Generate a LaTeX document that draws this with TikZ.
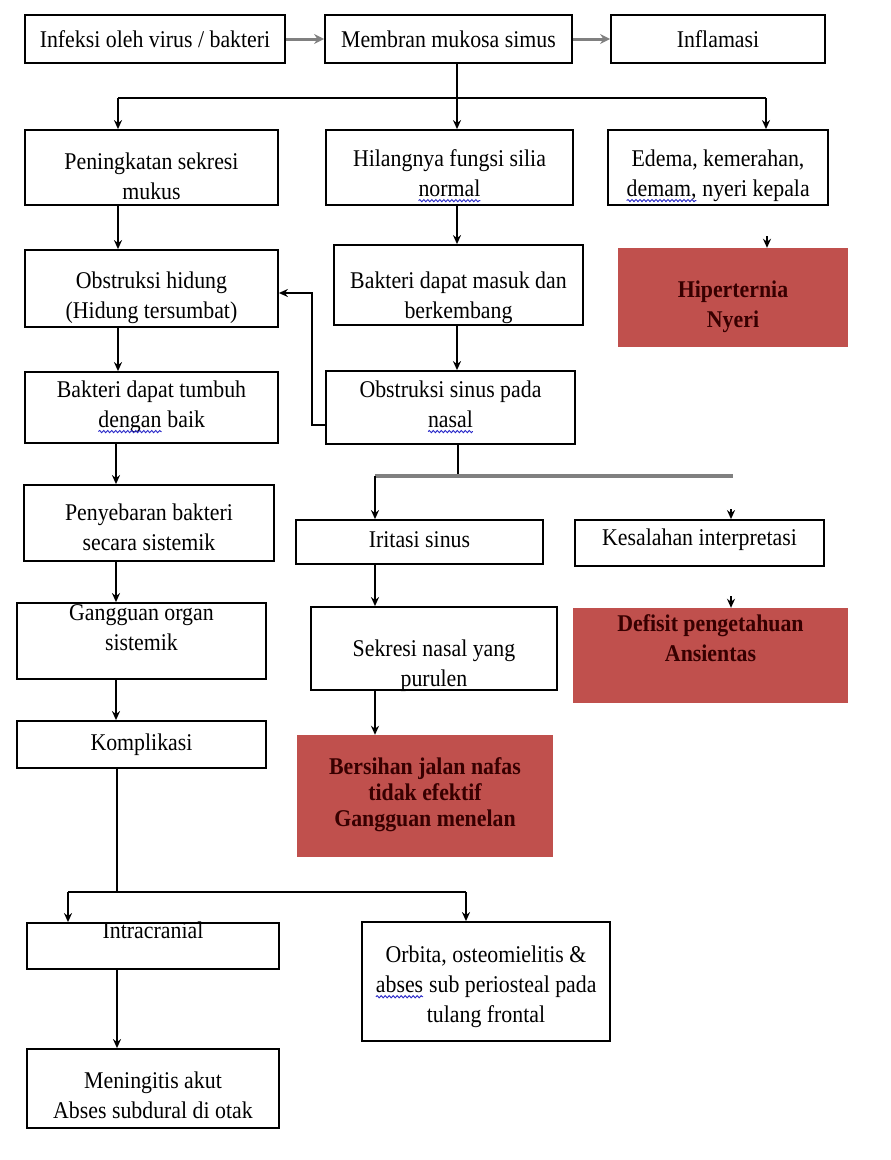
\documentclass[tikz,border=0pt]{standalone}
\usepackage{fontspec}
\setmainfont{Liberation Serif}[FakeStretch=0.91]
\usetikzlibrary{arrows.meta,calc,decorations.pathmorphing}
\definecolor{boxred}{RGB}{192,80,77}
\definecolor{darktxt}{RGB}{55,0,0}
\definecolor{linegray}{RGB}{128,128,128}
\definecolor{squig}{RGB}{40,40,200}
\newcommand\sq[1]{\tikz[baseline=(sqw.base)]{\node[inner sep=0pt,outer sep=0pt] (sqw) {#1};
 \draw[squig,line width=0.9pt,decorate,decoration={snake,segment length=4pt,amplitude=1.1pt}] ([yshift=-4pt]sqw.base west) -- ([yshift=-4pt]sqw.base east);}}
\begin{document}
\begin{tikzpicture}[x=1pt,y=-1pt,
 box/.style={draw=black,line width=1.8pt,fill=white,inner sep=0pt},
 redbox/.style={fill=boxred,draw=none,inner sep=0pt},
 txt/.style={align=center,font=\fontsize{24}{30}\selectfont,inner sep=0pt},
 redtxt/.style={align=center,inner sep=0pt,font=\fontsize{24}{30}\selectfont\bfseries,text=darktxt},
 arr/.style={line width=1.6pt,-{Stealth[length=9pt,width=8pt]}},
 ln/.style={line width=1.6pt},
 garr/.style={line width=3pt,draw=linegray,-{Stealth[length=10pt,width=10pt]}},
 gln/.style={line width=3.5pt,draw=linegray}]
\fill[white] (0,0) rectangle (891,1160);
\useasboundingbox (0,0) rectangle (891,1160);

% Row 1
\node[box,minimum width=260pt,minimum height=48pt] (A) at (155,39) {};
\node[txt] (At) at (155,39) {Infeksi oleh virus / bakteri};
\node[box,minimum width=247pt,minimum height=48pt] (B) at (448.5,39) {};
\node[txt] (Bt) at (448.5,39) {Membran mukosa simus};
\node[box,minimum width=214pt,minimum height=48pt] (C) at (718,39) {};
\node[txt] (Ct) at (718,39) {Inflamasi};

% Row 2
\node[box,minimum width=253pt,minimum height=75pt] (D) at (151.5,167.5) {};
\node[txt] (Dt) at (151.5,176) {Peningkatan sekresi\\mukus};
\node[box,minimum width=247pt,minimum height=75pt] (E) at (449.5,167.5) {};
\node[txt] (Et) at (449.5,176) {Hilangnya fungsi silia\\\sq{normal}};
\node[box,minimum width=220pt,minimum height=75pt] (F) at (718,167.5) {};
\node[txt] (Ft) at (718,176) {Edema, kemerahan,\\\sq{demam,} nyeri kepala};

% Row 3
\node[box,minimum width=253pt,minimum height=77pt] (G) at (151.5,288.5) {};
\node[txt] (Gt) at (151.5,298) {Obstruksi hidung\\(Hidung tersumbat)};
\node[box,minimum width=249pt,minimum height=80pt] (H) at (458.5,285) {};
\node[txt] (Ht) at (458.5,298) {Bakteri dapat masuk dan\\berkembang};
\node[redbox,minimum width=230pt,minimum height=99pt] (R1) at (733,297.5) {};
\node[redtxt] (R1t) at (733,307) {Hiperternia\\Nyeri};

% Row 4
\node[box,minimum width=253pt,minimum height=71pt] (J) at (151.5,407.5) {};
\node[txt] (Jt) at (151.5,407) {Bakteri dapat tumbuh\\\sq{dengan} baik};
\node[box,minimum width=249pt,minimum height=73pt] (I) at (450.5,407.5) {};
\node[txt] (It) at (450.5,407) {Obstruksi sinus pada\\\sq{nasal}};

% Row 5
\node[box,minimum width=250pt,minimum height=76pt] (N) at (149,523) {};
\node[txt] (Nt) at (149,527) {Penyebaran bakteri\\secara sistemik};
\node[box,minimum width=247pt,minimum height=44pt] (K) at (419.5,542) {};
\node[txt] (Kt) at (419.5,540) {Iritasi sinus};
\node[box,minimum width=249pt,minimum height=46pt] (L) at (699.5,543) {};
\node[txt] (Lt) at (699.5,540) {Kesalahan interpretasi};

% Row 6
\node[box,minimum width=249pt,minimum height=76pt] (O) at (141.5,641) {};
\node[txt] (Ot) at (141.5,628) {Gangguan organ\\sistemik};
\node[box,minimum width=246pt,minimum height=83pt] (M) at (434,648.5) {};
\node[txt] (Mt) at (434,666) {Sekresi nasal yang\\purulen};
\node[redbox,minimum width=275pt,minimum height=95pt] (R2) at (710.5,655.5) {};
\node[redtxt] (R2t) at (710.5,638) {Defisit pengetahuan\\Ansientas};

% Row 7
\node[box,minimum width=249pt,minimum height=47pt] (P) at (141.5,744.5) {};
\node[txt] (Pt) at (141.5,745) {Komplikasi};
\node[redbox,minimum width=256pt,minimum height=122pt] (R3) at (425,796) {};
\node[redtxt,font=\fontsize{24}{26}\selectfont\bfseries] (R3t) at (425,795) {Bersihan jalan nafas\\tidak efektif\\Gangguan menelan};

% Bottom
\node[box,minimum width=252pt,minimum height=46pt] (Q) at (153,946) {};
\node[txt] (Qt) at (153,930) {Intracranial};
\node[box,minimum width=248pt,minimum height=119pt] (Rb) at (486,981.5) {};
\node[txt] (Rbt) at (486,987) {Orbita, osteomielitis \&\\\sq{abses} sub periosteal pada\\tulang frontal};
\node[box,minimum width=252pt,minimum height=79pt] (S) at (153,1088.5) {};
\node[txt] (St) at (153,1095) {Meningitis akut\\Abses subdural di otak};

% Connectors
\draw[garr] (A.east) -- (B.west);
\draw[garr] (B.east) -- (C.west);

\coordinate (j1) at (457,98);
\coordinate (l1) at (118,98);
\coordinate (r1) at (766,98);
\draw[ln] (B.south -| j1) -- (j1);
\draw[ln] (l1) -- (r1);
\draw[arr] (l1) -- (l1 |- D.north);
\draw[arr] (j1) -- (j1 |- E.north);
\draw[arr] (r1) -- (r1 |- F.north);

\draw[arr] (D.south -| l1) -- (G.north -| l1);
\draw[arr] (E.south -| j1) -- (H.north -| j1);
\coordinate (ft) at (767,236);
\draw[arr] (ft) -- (ft |- R1.north);

\draw[arr] (G.south -| l1) -- (J.north -| l1);
\draw[arr] (H.south -| j1) -- (I.north -| j1);

\coordinate (fb) at (312,293);
\draw[arr] ([yshift=-17.5pt]I.west) -| (fb) -- (fb -| G.east);

\coordinate (j2) at (458,476);
\coordinate (l2) at (375,476);
\coordinate (r2) at (733,476);
\draw[ln] (I.south -| j2) -- (j2);
\draw[gln] (l2) -- (r2);
\draw[arr] (l2) -- (l2 |- K.north);
\coordinate (lt) at (731,509);
\draw[arr] (lt) -- (lt |- L.north);
\draw[arr] (K.south -| l2) -- (M.north -| l2);
\coordinate (lt2) at (731,596);
\draw[arr] (lt2) -- (lt2 |- R2.north);
\draw[arr] (M.south -| l2) -- (R3.north -| l2);

\coordinate (c3) at (116,0);
\draw[arr] (J.south -| c3) -- (N.north -| c3);
\draw[arr] (N.south -| c3) -- (O.north -| c3);
\draw[arr] (O.south -| c3) -- (P.north -| c3);

\coordinate (j4) at (117,892);
\coordinate (l4) at (68,892);
\coordinate (r4) at (466,892);
\draw[ln] (P.south -| j4) -- (j4);
\draw[ln] (l4) -- (r4);
\draw[arr] (l4) -- (l4 |- Q.north);
\draw[arr] (r4) -- (r4 |- Rb.north);
\draw[arr] (Q.south -| j4) -- (S.north -| j4);
\end{tikzpicture}
\end{document}
